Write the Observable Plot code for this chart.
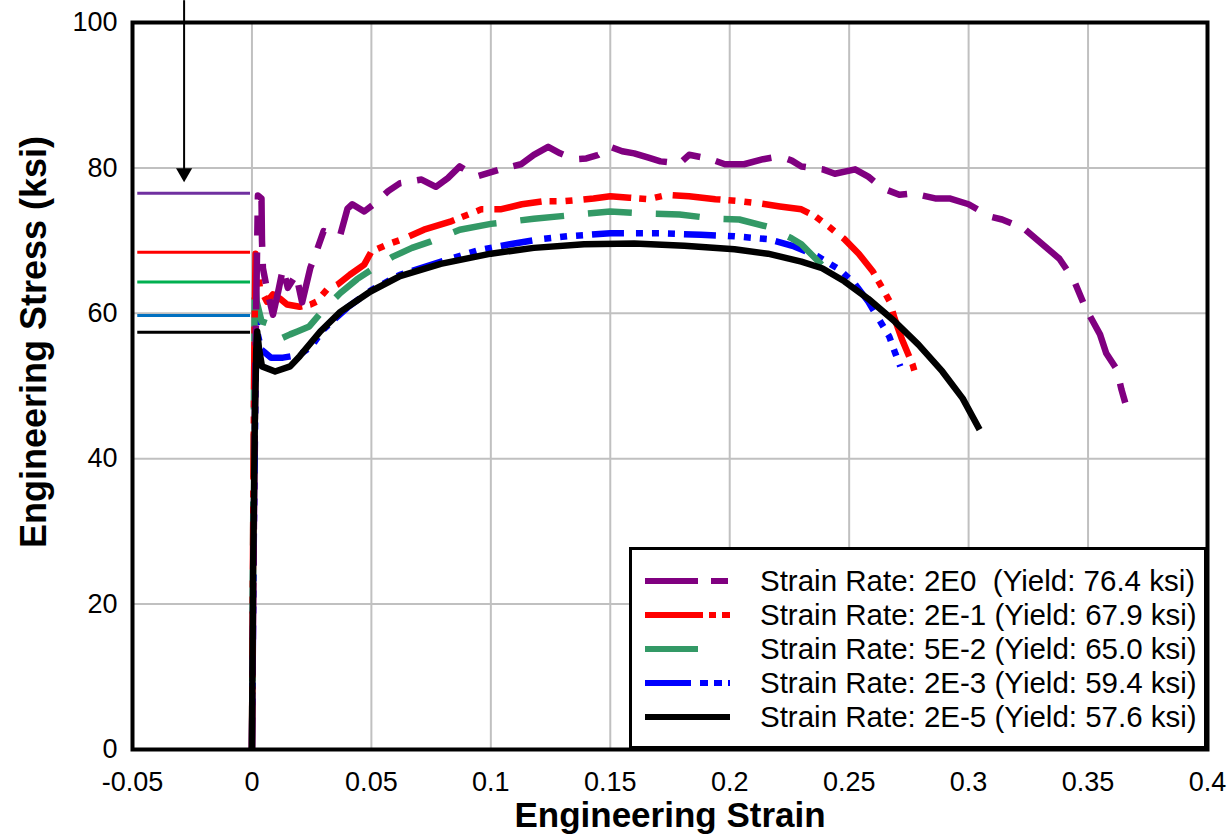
<!DOCTYPE html>
<html>
<head>
<meta charset="utf-8">
<script src="https://cdn.jsdelivr.net/npm/d3@7"></script>
<script src="https://cdn.jsdelivr.net/npm/@observablehq/plot@0.6"></script>
<style>
  html, body { margin: 0; padding: 0; background: #fff; }
  #wrap { position: relative; width: 1228px; height: 837px; font-family: "Liberation Sans", Arial, sans-serif; }
  #legend { position: absolute; left: 629px; top: 547px; width: 578px; height: 202px; box-sizing: border-box;
            border: 3px solid #000; background: #fff; }
  .row { position: absolute; left: 0; height: 34px; width: 100%; }
  .row svg { position: absolute; left: 10px; top: 0; }
  .row span { position: absolute; left: 128px; top: 0; line-height: 34px; font-size: 29.5px; color: #000; white-space: pre; }
</style>
</head>
<body>
<div id="wrap">
  <div id="chart"></div>
  <div id="legend"></div>
</div>
<script>
// ---------- data ----------
const xTicks = [-0.05, 0, 0.05, 0.1, 0.15, 0.2, 0.25, 0.3, 0.35, 0.4];
const yTicks = [0, 20, 40, 60, 80, 100];
const xLabel = "Engineering Strain";
const yLabel = "Engineering Stress (ksi)";

const seriesNames = [
  "Strain Rate: 2E0  (Yield: 76.4 ksi)",
  "Strain Rate: 2E-1 (Yield: 67.9 ksi)",
  "Strain Rate: 5E-2 (Yield: 65.0 ksi)",
  "Strain Rate: 2E-3 (Yield: 59.4 ksi)",
  "Strain Rate: 2E-5 (Yield: 57.6 ksi)"
];

// yield reference marks drawn left of zero strain (stress, ksi)
const yieldMarkStress = [76.5, 68.4, 64.3, 59.7, 57.4];

// arrow annotation (strain, stress)
const arrowStrain = -0.0284;
const arrowTopStress = 103;
const arrowTipStress = 79.3;

// curves: [engineering strain, engineering stress (ksi)]
const curve2E0 = [
  [0,0],[0.0008,30],[0.0015,55],[0.0025,76.2],[0.004,75.8],[0.0042,70],[0.0046,66.2],[0.0065,63],[0.0088,59.8],
  [0.011,63],[0.013,66.2],[0.015,63.5],[0.0185,65.3],[0.021,61.5],[0.0244,66.2],[0.027,68.5],[0.030,71.3],
  [0.034,70.9],[0.037,70.8],[0.040,74.4],[0.042,75.0],[0.047,74.0],[0.051,75.0],[0.057,76.8],[0.062,77.9],
  [0.071,78.4],[0.077,77.4],[0.082,78.6],[0.087,80.2],[0.094,78.8],[0.104,79.8],[0.1126,80.5],[0.118,81.8],
  [0.124,82.9],[0.129,82.0],[0.135,81.2],[0.140,81.3],[0.145,81.8],[0.150,82.9],[0.155,82.3],[0.160,82.0],
  [0.166,81.4],[0.171,80.9],[0.179,80.6],[0.183,81.8],[0.191,81.3],[0.198,80.5],[0.206,80.5],[0.214,81.2],
  [0.221,81.6],[0.226,81.0],[0.230,80.2],[0.239,79.8],[0.244,79.2],[0.2525,79.8],[0.258,78.8],[0.264,77.2],
  [0.271,76.3],[0.2765,76.5],[0.286,75.8],[0.292,75.8],[0.300,75.0],[0.309,73.3],[0.314,72.9],[0.323,71.7],
  [0.332,69.2],[0.338,67.5],[0.344,64.6],[0.349,60.7],[0.355,57.1],[0.3576,54.5],[0.362,52.3],[0.364,49.5],[0.366,47.2]
];
const curve2E1 = [
  [0,0],[0.0005,30],[0.001,55],[0.0015,68.2],[0.002,66.7],[0.0034,63.4],[0.0063,61.6],[0.0088,62.6],[0.0118,62.0],
  [0.0147,61.2],[0.020,60.9],[0.0244,61.2],[0.027,61.6],[0.0315,63.3],[0.036,64.0],[0.041,65.3],[0.047,66.7],
  [0.050,68.5],[0.057,69.5],[0.063,70.2],[0.072,71.5],[0.083,72.6],[0.096,74.3],[0.104,74.3],[0.113,75.0],
  [0.122,75.4],[0.130,75.4],[0.137,75.6],[0.143,75.8],[0.150,76.1],[0.158,75.9],[0.166,75.7],[0.174,76.3],
  [0.183,76.1],[0.194,75.7],[0.205,75.4],[0.213,75.1],[0.221,74.7],[0.230,74.3],[0.236,73.3],[0.2416,71.9],
  [0.248,70.2],[0.254,68.2],[0.260,65.7],[0.264,63.4],[0.267,61.6],[0.269,59.3],[0.272,56.5],[0.2765,53.0],[0.278,51.3]
];
const curve5E2 = [
  [0,0],[0.0005,30],[0.001,55],[0.0012,64.8],[0.002,61.6],[0.004,58.9],[0.0076,58.5],[0.012,56.5],[0.016,57.1],
  [0.019,57.5],[0.024,58.2],[0.030,60.5],[0.037,62.8],[0.044,64.7],[0.051,66.2],[0.059,67.8],[0.067,69.0],
  [0.075,69.9],[0.087,71.5],[0.100,72.3],[0.118,73.0],[0.137,73.6],[0.150,74.0],[0.167,73.7],[0.179,73.6],
  [0.194,73.0],[0.204,72.9],[0.216,71.9],[0.226,70.3],[0.230,69.5],[0.236,67.5],[0.240,66.2],[0.245,64.8]
];
const curve2E3 = [
  [0,0],[0.0008,30],[0.0015,50],[0.002,59.1],[0.0025,57],[0.004,55.0],[0.008,53.9],[0.013,53.9],[0.020,54.3],
  [0.025,55.5],[0.030,57.8],[0.040,60.8],[0.050,63.2],[0.062,65.3],[0.080,67.2],[0.095,68.7],[0.108,69.5],
  [0.121,70.2],[0.132,70.6],[0.150,71.0],[0.171,71.0],[0.188,70.8],[0.202,70.6],[0.216,70.2],[0.227,69.2],
  [0.237,67.8],[0.246,66.0],[0.2525,64.0],[0.258,61.6],[0.2626,59.1],[0.2668,56.8],[0.2693,54.5],[0.2714,52.7]
];
const curve2E5 = [
  [0,0],[0.0005,25],[0.0012,45],[0.0018,55],[0.0022,57.5],[0.003,55],[0.0042,52.7],[0.0097,52.0],[0.016,52.7],
  [0.020,54.1],[0.0286,57.5],[0.037,60.2],[0.0496,63.0],[0.062,65.1],[0.079,66.8],[0.100,68.2],[0.118,69.0],
  [0.139,69.5],[0.160,69.6],[0.181,69.3],[0.202,68.8],[0.216,68.2],[0.230,67.1],[0.2387,66.2],[0.248,64.4],
  [0.258,62.0],[0.269,58.9],[0.279,55.7],[0.289,52.0],[0.2975,48.3],[0.3046,44.0]
];

// ---------- styles ----------
const curves = [curve2E0, curve2E1, curve5E2, curve2E3, curve2E5];
const curveColors = ["#800080", "#FF0000", "#339966", "#0000FF", "#000000"];
const curveDash = ["57,17,20,16", "48,8,7,9,7,11", "44,24", "32,12,7,9,7,9,7,9", null];
const legendDash = ["53,13,17,60", "58,6,7,6,8,60", "53,100", "46,9,8,6,8,6,8,60", null];
const yieldColors = ["#7030A0", "#FF0000", "#00B050", "#0070C0", "#000000"];
const drawOrder = [3, 2, 1, 0, 4];

const yieldRows = yieldMarkStress.map((s, i) => ({stress: s, color: yieldColors[i]}));

const marks = [
  Plot.ruleX(xTicks, {stroke: "#c0c0c0", strokeWidth: 2}),
  Plot.ruleY(yTicks, {stroke: "#c0c0c0", strokeWidth: 2}),
  Plot.ruleY(yieldRows, {y: "stress", x1: -0.0478, x2: -0.0006, stroke: d => d.color, strokeWidth: 3})
];
for (const i of drawOrder) {
  marks.push(Plot.line(curves[i], {
    x: d => d[0], y: d => d[1],
    stroke: curveColors[i], strokeWidth: 6.5,
    strokeDasharray: curveDash[i] || undefined,
    strokeLinejoin: "round", strokeLinecap: "butt", curve: "linear"
  }));
}
marks.push(
  Plot.ruleX([arrowStrain], {x: d => d, y1: arrowTopStress, y2: arrowTipStress + 0.4, stroke: "#000", strokeWidth: 2}),
  Plot.dot([arrowStrain], {x: d => d, y: arrowTipStress, symbol: "triangle", rotate: 180, r: 6, fill: "#000", stroke: "none"}),
  Plot.frame({stroke: "#000", strokeWidth: 4}),
  Plot.text([xLabel], {frameAnchor: "bottom", textAnchor: "middle", lineAnchor: "middle", dy: 66, fontSize: 35, fontWeight: "bold", fill: "#000"}),
  Plot.text([yLabel], {frameAnchor: "left", textAnchor: "middle", lineAnchor: "middle", dx: -98, dy: -44, rotate: -90, fontSize: 36, fontWeight: "bold", fill: "#000"})
);

const chart = Plot.plot({
  width: 1228,
  height: 837,
  marginLeft: 132,
  marginRight: 21,
  marginTop: 22,
  marginBottom: 88,
  style: {fontFamily: "'Liberation Sans', Arial, sans-serif", fontSize: "27px", color: "#000", background: "#fff", overflow: "visible"},
  x: {domain: [-0.05, 0.4], ticks: xTicks, tickFormat: d => String(+d.toFixed(2)), tickSize: 0, tickPadding: 22, label: null},
  y: {domain: [0, 100], ticks: yTicks, tickFormat: d => String(d), tickSize: 0, tickPadding: 15, label: null},
  marks
});
document.getElementById("chart").appendChild(chart);

// ---------- legend (inside the plot, bottom right) ----------
const legend = document.getElementById("legend");
seriesNames.forEach((name, i) => {
  const row = document.createElement("div");
  row.className = "row";
  row.style.top = (17 + i * 34 - 3) + "px";
  const svg = d3.create("svg").attr("width", 90).attr("height", 34);
  svg.append("line").attr("x1", 3).attr("x2", 88).attr("y1", 17).attr("y2", 17)
    .attr("stroke", curveColors[i]).attr("stroke-width", 6)
    .attr("stroke-dasharray", legendDash[i] || null);
  row.appendChild(svg.node());
  const span = document.createElement("span");
  span.textContent = name;
  row.appendChild(span);
  legend.appendChild(row);
});
</script>
</body>
</html>
